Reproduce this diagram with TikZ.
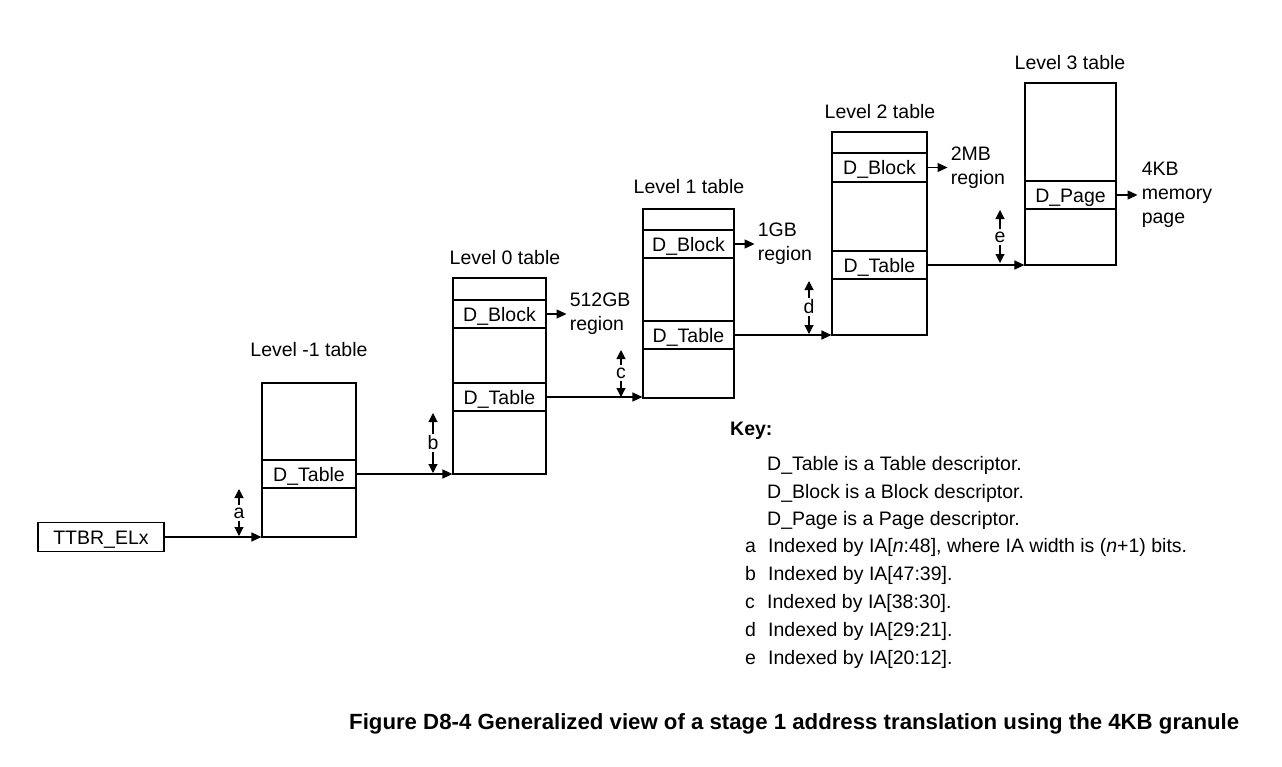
\documentclass[tikz,border=0pt]{standalone}
\usepackage{fontspec}
\setmainfont{Liberation Sans}
\usetikzlibrary{arrows.meta}
\begin{document}
\begin{tikzpicture}[x=1pt,y=-1pt,
  every node/.style={font=\fontsize{19.5}{24}\selectfont, inner sep=0pt},
  tblbox/.style={draw, line width=1.1pt},
  rowbox/.style={draw, line width=1.1pt, text height=14pt, text depth=0pt},
  regtext/.style={anchor=west, align=left},
  arr/.style={line width=1.1pt, -{Triangle[length=10pt,width=9pt]}},
  ind/.style={line width=1.1pt, -{Triangle[length=9pt,width=9pt]}, shorten <=2pt},
  keytext/.style={anchor=base west}
]
\useasboundingbox (0,0) rectangle (1282,766);

% TTBR
\node[tblbox, minimum width=126, minimum height=29, text height=14pt, text depth=0pt] (ttbr) at (101,537) {TTBR\_ELx};

% Level -1
\node[tblbox, minimum width=94, minimum height=154] (Lm1) at (309,460) {};
\node[rowbox, minimum width=94, minimum height=28] (Lm1t) at (309,474) {D\_Table};
\node[anchor=base] (Lm1lab) at (309,356) {Level -1 table};

% Level 0
\node[tblbox, minimum width=93, minimum height=196] (L0) at (499.5,376) {};
\node[rowbox, minimum width=93, minimum height=28] (L0b) at (499.5,314) {D\_Block};
\node[rowbox, minimum width=93, minimum height=28] (L0t) at (499.5,397) {D\_Table};
\node[anchor=base] (L0lab) at (505,264) {Level 0 table};

% Level 1
\node[tblbox, minimum width=91, minimum height=189] (L1) at (688.5,303.5) {};
\node[rowbox, minimum width=91, minimum height=28] (L1b) at (688.5,244) {D\_Block};
\node[rowbox, minimum width=91, minimum height=28] (L1t) at (688.5,335) {D\_Table};
\node[anchor=base] (L1lab) at (689,193) {Level 1 table};

% Level 2
\node[tblbox, minimum width=95, minimum height=203] (L2) at (879.5,233.5) {};
\node[rowbox, minimum width=95, minimum height=29] (L2b) at (879.5,167.5) {D\_Block};
\node[rowbox, minimum width=95, minimum height=28] (L2t) at (879.5,265) {D\_Table};
\node[anchor=base] (L2lab) at (880,118) {Level 2 table};

% Level 3
\node[tblbox, minimum width=91, minimum height=182] (L3) at (1070.5,174) {};
\node[rowbox, minimum width=91, minimum height=28] (L3p) at (1070.5,195) {D\_Page};
\node[anchor=base] (L3lab) at (1070,69) {Level 3 table};

% region texts
\node[regtext] (r0) at ([xshift=23pt]L0b.east) {512GB\\region};
\node[regtext] (r1) at ([xshift=23pt]L1b.east) {1GB\\region};
\node[regtext] (r2) at ([xshift=23pt]L2b.east) {2MB\\region};
\node[regtext] (r3) at ([xshift=25pt]L3p.east) {4KB\\memory\\page};

\draw[arr, shorten >=3pt] (L0b.east) -- (L0b.east -| r0.west);
\draw[arr, shorten >=3pt] (L1b.east) -- (L1b.east -| r1.west);
\draw[arr, shorten >=3pt] (L2b.east) -- (L2b.east -| r2.west);
\draw[arr, shorten >=4pt] (L3p.east) -- (L3p.east -| r3.west);

% main arrows
\draw[arr] (ttbr.east) -- (ttbr.east -| Lm1.west);
\draw[arr] (Lm1t.east) -- (Lm1t.east -| L0.west);
\draw[arr] (L0t.east) -- (L0t.east -| L1.west);
\draw[arr] (L1t.east) -- (L1t.east -| L2.west);
\draw[arr] (L2t.east) -- (L2t.east -| L3.west);

% indicators
\node (ia) at (239,513) {a};
\coordinate (iat) at (239,489); \coordinate (iab) at (239,536);
\draw[ind] (ia.north) -- (iat); \draw[ind] (ia.south) -- (iab);
\node (ib) at (433,443) {b};
\coordinate (ibt) at (433,413); \coordinate (ibb) at (433,473);
\draw[ind] (ib.north) -- (ibt); \draw[ind] (ib.south) -- (ibb);
\node (ic) at (621,373) {c};
\coordinate (ict) at (621,350); \coordinate (icb) at (621,397);
\draw[ind] (ic.north) -- (ict); \draw[ind] (ic.south) -- (icb);
\node (id) at (809,307) {d};
\coordinate (idt) at (809,281); \coordinate (idb) at (809,334);
\draw[ind] (id.north) -- (idt); \draw[ind] (id.south) -- (idb);
\node (ie) at (1000,237) {e};
\coordinate (iet) at (1000,210); \coordinate (ieb) at (1000,263);
\draw[ind] (ie.north) -- (iet); \draw[ind] (ie.south) -- (ieb);

% key
\node[keytext, font=\fontsize{19.5}{24}\selectfont\bfseries] (key) at (730,435) {Key:};
\node[keytext] (k1) at (767,470) {D\_Table is a Table descriptor.};
\node[keytext] (k2) at (767,498) {D\_Block is a Block descriptor.};
\node[keytext] (k3) at (767,525) {D\_Page is a Page descriptor.};
\node[keytext] (k4l) at (745,552) {a};
\node[keytext] (k4) at (768,552) {Indexed by IA[\textit{n}:48], where IA width is (\textit{n}+1) bits.};
\node[keytext] (k5l) at (745,580) {b};
\node[keytext] (k5) at (768,580) {Indexed by IA[47:39].};
\node[keytext] (k6l) at (745,608) {c};
\node[keytext] (k6) at (767,608) {Indexed by IA[38:30].};
\node[keytext] (k7l) at (745,636) {d};
\node[keytext] (k7) at (768,636) {Indexed by IA[29:21].};
\node[keytext] (k8l) at (745,664) {e};
\node[keytext] (k8) at (768,664) {Indexed by IA[20:12].};

% caption
\node[anchor=base west, font=\fontsize{22}{26}\selectfont\bfseries] (cap) at (349,729)
  {\resizebox{890pt}{\height}{Figure D8-4 Generalized view of a stage 1 address translation using the 4KB granule}};
\end{tikzpicture}
\end{document}
